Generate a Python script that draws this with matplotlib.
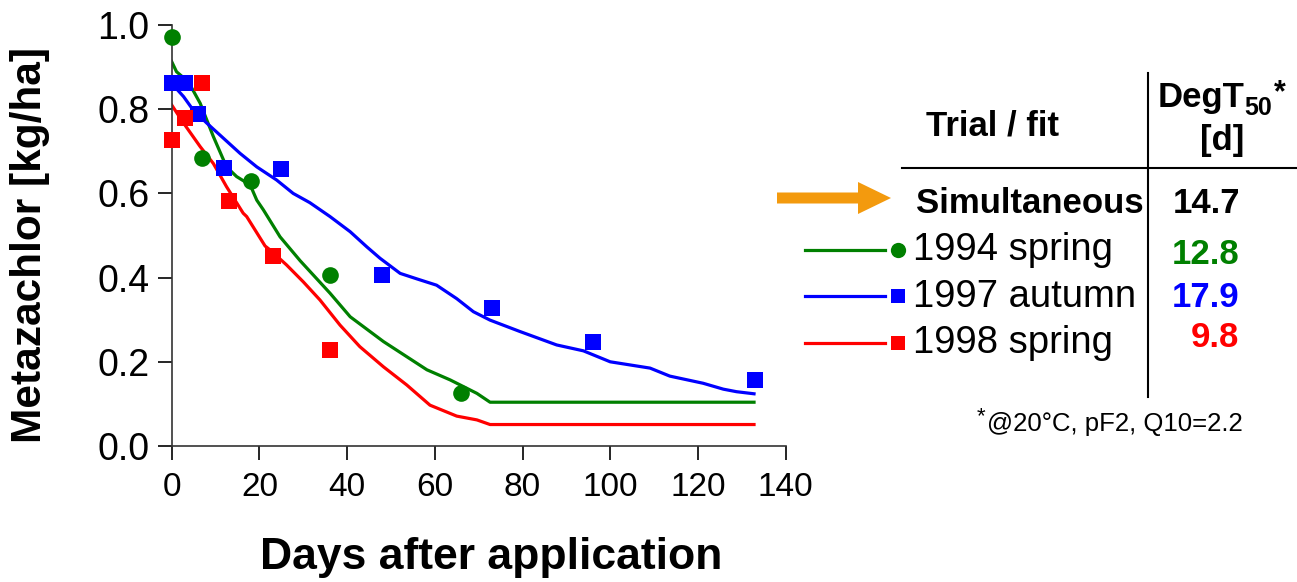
#!/usr/bin/env python
# Metazachlor decline in field trials: measured residues and fitted curves

import matplotlib
matplotlib.use("Agg")
import matplotlib.pyplot as plt
from matplotlib.patches import Polygon
import numpy as np

plt.rcParams["font.family"] = ["Liberation Sans", "DejaVu Sans"]

# ------------------------------------------------------------------
# Measured residues [kg/ha]
# ------------------------------------------------------------------
days_1994 = [0, 7, 18, 36, 66]
obs_1994 = [0.971, 0.683, 0.630, 0.406, 0.127]

days_1997 = [0, 3, 6, 12, 25, 48, 73, 96, 133]
obs_1997 = [0.863, 0.863, 0.788, 0.661, 0.657, 0.405, 0.327, 0.248, 0.157]

days_1998 = [0, 3, 7, 13, 23, 36]
obs_1998 = [0.727, 0.780, 0.863, 0.583, 0.451, 0.228]

# ------------------------------------------------------------------
# Fitted curves
# ------------------------------------------------------------------
fit_days_1994 = [0, 1.1, 3.8, 6.5, 9.5, 12.5, 14.8, 17.9, 19.4, 20.9, 24.7,
                 29.3, 36.1, 40.7, 48.3, 58.2, 63.5, 69.6, 72.6, 132.8]
fit_1994 = [0.913, 0.889, 0.865, 0.814, 0.735, 0.663, 0.640, 0.620, 0.584, 0.561,
            0.497, 0.440, 0.363, 0.307, 0.248, 0.181, 0.157, 0.125, 0.104, 0.104]

fit_days_1997 = [0, 2.7, 4.9, 8.0, 11.8, 15.6, 19.4, 23.9, 27.7, 31.5, 36.1, 40.7,
                 44.5, 47.5, 52.1, 55.9, 60.4, 65.0, 68.8, 72.6, 79.4, 87.8, 93.9,
                 100.0, 109.1, 113.6, 121.2, 125.8, 128.8, 132.8]
fit_1997 = [0.861, 0.830, 0.798, 0.767, 0.731, 0.695, 0.663, 0.632, 0.600, 0.578,
            0.545, 0.509, 0.473, 0.446, 0.410, 0.397, 0.382, 0.350, 0.319, 0.299,
            0.272, 0.240, 0.226, 0.200, 0.185, 0.166, 0.149, 0.135, 0.129, 0.124]

fit_days_1998 = [0, 2.7, 6.5, 9.5, 12.5, 16.3, 17.1, 21.3, 22.4, 26.2, 30.0, 33.8,
                 38.4, 42.9, 48.3, 53.6, 58.9, 65.0, 69.6, 72.6, 132.8]
fit_1998 = [0.810, 0.767, 0.711, 0.671, 0.616, 0.553, 0.545, 0.475, 0.466, 0.430,
            0.390, 0.347, 0.287, 0.236, 0.188, 0.145, 0.097, 0.071, 0.062, 0.051, 0.051]

# ------------------------------------------------------------------
# Table contents
# ------------------------------------------------------------------
trials = ["1994 spring", "1997 autumn", "1998 spring"]
degt50 = [12.8, 17.9, 9.8]
degt50_simultaneous = 14.7
colors = ["#008000", "#0000FF", "#FF0000"]
markers = ["o", "s", "s"]

W, H = 1297, 582
fig = plt.figure(figsize=(W / 100, H / 100), dpi=100)

ax = fig.add_axes([171.7 / W, 1 - 446 / H, (785.6 - 171.7) / W, (446 - 25) / H])

series = [
    (days_1994, obs_1994, fit_days_1994, fit_1994),
    (days_1997, obs_1997, fit_days_1997, fit_1997),
    (days_1998, obs_1998, fit_days_1998, fit_1998),
]
for (d, o, fd, f), c, m in zip(series, colors, markers):
    ax.plot(fd, f, "-", color=c, linewidth=2.3, zorder=2)
    ms = 12 if m == "o" else 11
    ax.plot(d, o, m, color=c, markersize=ms, markeredgewidth=0, zorder=3, clip_on=False)

ax.set_xlim(0, 140)
ax.set_ylim(0, 1.0)
ax.set_xticks(np.arange(0, 141, 20))
ax.set_yticks(np.arange(0, 1.01, 0.2))
ax.set_yticklabels([f"{v:.1f}" for v in np.arange(0, 1.01, 0.2)])
ax.tick_params(axis="x", labelsize=24, length=10, width=1.2, direction="out", pad=9)
ax.tick_params(axis="y", labelsize=27, length=10, width=1.2, direction="out", pad=6)
ax.spines["top"].set_visible(False)
ax.spines["right"].set_visible(False)
for s in ("left", "bottom"):
    ax.spines[s].set_linewidth(1.2)
    ax.spines[s].set_color("#333333")

fig.text(30 / W, 1 - 245 / H, "Metazachlor [kg/ha]", rotation=90, ha="center",
         va="center", fontsize=30.5, fontweight="bold")
fig.text(491 / W, 1 - 558 / H, "Days after application", ha="center",
         va="center", fontsize=32, fontweight="bold")

# ------------------------------------------------------------------
# Table on the right (overlay in pixel coordinates)
# ------------------------------------------------------------------
ov = fig.add_axes([0, 0, 1, 1], facecolor="none")
ov.set_xlim(0, W)
ov.set_ylim(H, 0)
ov.axis("off")

ov.plot([901.7, W], [167.7, 167.7], color="black", linewidth=1.5)
ov.plot([1148.3, 1148.3], [73, 397], color="black", linewidth=1.5)

ov.text(993, 136, "Trial / fit", ha="center", va="baseline", fontsize=25, fontweight="bold")
ov.text(1158, 106.7, "DegT", ha="left", va="baseline", fontsize=25, fontweight="bold")
ov.text(1244, 115, "50", ha="left", va="baseline", fontsize=18, fontweight="bold")
ov.text(1274, 101, "*", ha="left", va="baseline", fontsize=22, fontweight="bold")
ov.text(1221.7, 150, "[d]", ha="center", va="baseline", fontsize=25, fontweight="bold")

arrow = Polygon([[777, 192.5], [858, 192.5], [858, 182], [891, 198],
                 [858, 214], [858, 203.5], [777, 203.5]],
                closed=True, facecolor="#F39A0E", edgecolor="none")
ov.add_patch(arrow)
ov.text(915.7, 213.3, "Simultaneous", ha="left", va="baseline", fontsize=25, fontweight="bold")
ov.text(1240, 213.3, f"{degt50_simultaneous:.1f}", ha="right", va="baseline",
        fontsize=25, fontweight="bold")

row_y = [250, 296, 343]
text_base = [260, 306.7, 353.3]
val_base = [264, 306.7, 347.3]
for name, val, c, m, ly, tb, vb in zip(trials, degt50, colors, markers, row_y, text_base, val_base):
    ov.plot([805, 885], [ly, ly], color=c, linewidth=2.3)
    ov.plot([898.3], [ly], m, color=c, markersize=11 if m == "o" else 10, markeredgewidth=0)
    ov.text(913, tb, name, ha="left", va="baseline", fontsize=27.5)
    ov.text(1239, vb, f"{val:.1f}", ha="right", va="baseline", fontsize=25,
            fontweight="bold", color=c)

ov.text(977, 422, "*", ha="left", va="baseline", fontsize=16)
ov.text(1243, 431, "@20°C, pF2, Q10=2.2", ha="right", va="baseline", fontsize=18.5)

fig.savefig("out.png", dpi=100)
plt.close(fig)
